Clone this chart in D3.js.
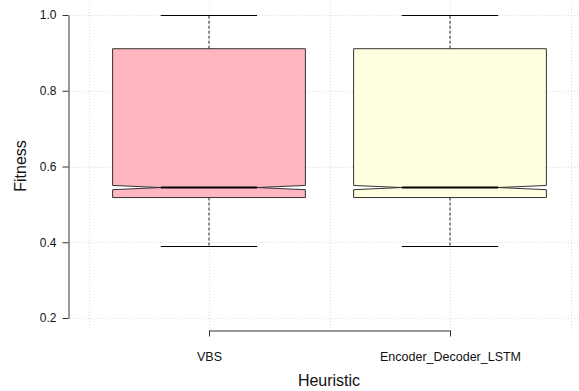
<!DOCTYPE html>
<html>
<head>
<meta charset="utf-8">
<script src="https://cdn.jsdelivr.net/npm/d3@7"></script>
<style>
  body { margin: 0; background: #fff; }
  svg { display: block; font-family: "Liberation Sans", Arial, sans-serif; }
</style>
</head>
<body>
<div id="chart"></div>
<script>
// data
const categories = ["VBS", "Encoder_Decoder_LSTM"];
const whiskerLow = [0.39, 0.39];
const q1 = [0.518, 0.518];
const notchLow = [0.5387, 0.5387];
const median = [0.5445, 0.5445];
const notchHigh = [0.5500, 0.5500];
const q3 = [0.911, 0.911];
const whiskerHigh = [1.0, 1.0];
const yTicks = [0.2, 0.4, 0.6, 0.8, 1.0];
const xGrid = [0.5, 1, 1.5, 2, 2.5];

const fills = ["#FFB6C1", "#FFFFE0"];

const width = 579, height = 391;

const svg = d3.select("#chart").append("svg")
  .attr("width", width)
  .attr("height", height);

// scales
const x = d3.scaleLinear().domain([0.5, 2.5]).range([88.5, 570.5]);
const y = d3.scaleLinear().domain([0.2, 1.0]).range([318, 15]);
const xCat = d3.scalePoint().domain(categories).range([x(1), x(2)]);

// grid
const grid = svg.append("g")
  .attr("stroke", "#dcdcdc")
  .attr("stroke-width", 1)
  .attr("stroke-dasharray", "1,2");
grid.selectAll("line.h").data(yTicks).join("line")
  .attr("class", "h")
  .attr("x1", 70).attr("x2", 578)
  .attr("y1", d => Math.round(y(d)) + 0.5).attr("y2", d => Math.round(y(d)) + 0.5);
grid.selectAll("line.v").data(xGrid).join("line")
  .attr("class", "v")
  .attr("x1", d => Math.round(x(d)) + 0.5).attr("x2", d => Math.round(x(d)) + 0.5)
  .attr("y1", 3).attr("y2", 332);

// boxes
const boxHalf = 0.4, notchHalf = 0.2, capHalf = 0.2;
const boxes = categories.map((c, i) => ({
  i, c,
  wl: whiskerLow[i], q1: q1[i], nl: notchLow[i], med: median[i],
  nh: notchHigh[i], q3: q3[i], wh: whiskerHigh[i]
}));

const g = svg.append("g");

// whiskers (dashed)
g.selectAll("line.wu").data(boxes).join("line")
  .attr("x1", d => x(d.i + 1)).attr("x2", d => x(d.i + 1))
  .attr("y1", d => y(d.q3)).attr("y2", d => y(d.wh))
  .attr("stroke", "#222").attr("stroke-dasharray", "3,2");
g.selectAll("line.wl").data(boxes).join("line")
  .attr("x1", d => x(d.i + 1)).attr("x2", d => x(d.i + 1))
  .attr("y1", d => y(d.q1)).attr("y2", d => y(d.wl))
  .attr("stroke", "#222").attr("stroke-dasharray", "3,2");

// caps
g.selectAll("line.cu").data(boxes).join("line")
  .attr("x1", d => x(d.i + 1 - capHalf)).attr("x2", d => x(d.i + 1 + capHalf))
  .attr("y1", d => Math.round(y(d.wh)) + 0.5).attr("y2", d => Math.round(y(d.wh)) + 0.5)
  .attr("stroke", "#000");
g.selectAll("line.cl").data(boxes).join("line")
  .attr("x1", d => x(d.i + 1 - capHalf)).attr("x2", d => x(d.i + 1 + capHalf))
  .attr("y1", d => Math.round(y(d.wl)) + 0.5).attr("y2", d => Math.round(y(d.wl)) + 0.5)
  .attr("stroke", "#000");

// notched box polygon (R style)
g.selectAll("path.box").data(boxes).join("path")
  .attr("d", d => {
    const xl = x(d.i + 1 - boxHalf), xr = x(d.i + 1 + boxHalf);
    const nl = x(d.i + 1 - notchHalf), nr = x(d.i + 1 + notchHalf);
    const pts = [
      [xl, y(d.q1)], [xl, y(d.nl)], [nl, y(d.med)], [xl, y(d.nh)], [xl, y(d.q3)],
      [xr, y(d.q3)], [xr, y(d.nh)], [nr, y(d.med)], [xr, y(d.nl)], [xr, y(d.q1)]
    ];
    return d3.line()(pts) + "Z";
  })
  .attr("fill", d => fills[d.i])
  .attr("stroke", "#333")
  .attr("stroke-width", 1);

// median
g.selectAll("line.med").data(boxes).join("line")
  .attr("x1", d => x(d.i + 1 - notchHalf)).attr("x2", d => x(d.i + 1 + notchHalf))
  .attr("y1", d => y(d.med)).attr("y2", d => y(d.med))
  .attr("stroke", "#000").attr("stroke-width", 2);

// y axis
svg.append("g")
  .attr("transform", "translate(68.5,0)")
  .call(d3.axisLeft(y).tickValues(yTicks).tickFormat(d3.format(".1f")).tickSize(6).tickSizeOuter(0).tickPadding(6))
  .call(a => a.selectAll("path, line").attr("stroke", "#333"))
  .call(a => a.selectAll("text").attr("font-size", 12).attr("fill", "#111").attr("font-family", null));

// x axis bracket
svg.append("g")
  .attr("transform", "translate(0,330.5)")
  .call(d3.axisBottom(xCat).tickSize(6).tickSizeOuter(0).tickPadding(16))
  .call(a => a.selectAll("path, line").attr("stroke", "#333"))
  .call(a => a.selectAll("text").attr("font-size", 12.5).attr("fill", "#111").attr("font-family", null));

// titles
svg.append("text")
  .attr("x", 329).attr("y", 386)
  .attr("text-anchor", "middle")
  .attr("font-size", 16).attr("fill", "#111")
  .text("Heuristic");
svg.append("text")
  .attr("transform", "translate(26,166) rotate(-90)")
  .attr("text-anchor", "middle")
  .attr("font-size", 16).attr("fill", "#111")
  .text("Fitness");
</script>
</body>
</html>
